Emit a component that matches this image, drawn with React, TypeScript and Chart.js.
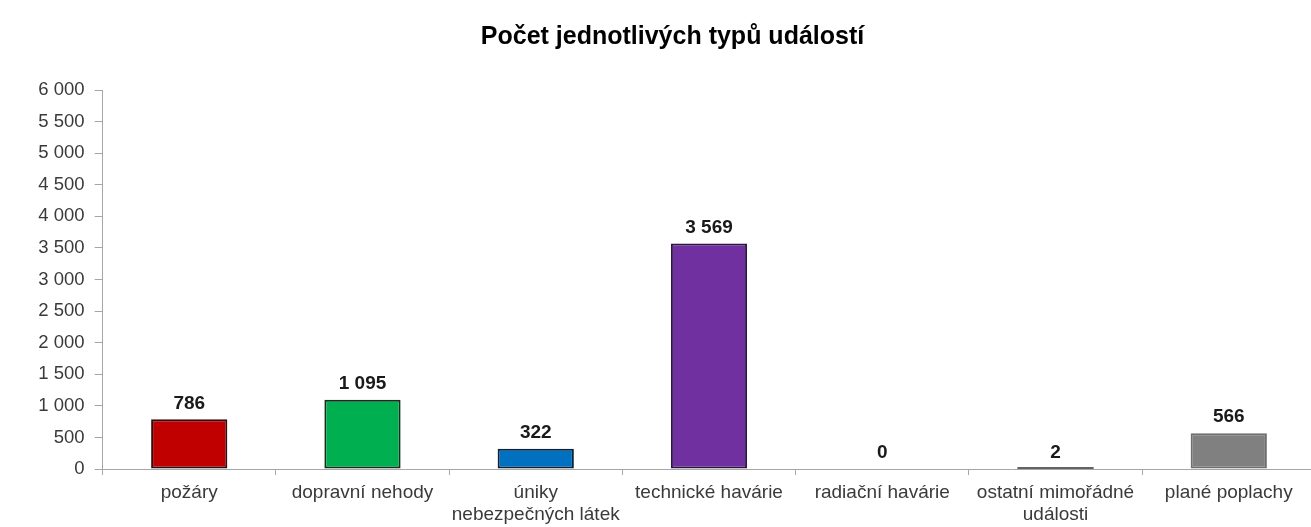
import React, { useEffect, useRef } from 'react';
import { Chart, registerables } from 'chart.js';

Chart.register(...registerables);

const titleText = 'Počet jednotlivých typů událostí';
const categories: string[][] = [
  ['požáry'],
  ['dopravní nehody'],
  ['úniky', 'nebezpečných látek'],
  ['technické havárie'],
  ['radiační havárie'],
  ['ostatní mimořádné', 'události'],
  ['plané poplachy'],
];
const values = [786, 1095, 322, 3569, 0, 2, 566];
const fillColors = ['#C00000', '#00B050', '#0070C0', '#7030A0', '#808080', '#808080', '#808080'];
const edgeColors = ['#2a1010', '#13301d', '#0d2238', '#2a1640', '#333333', '#333333', '#6f6f6f'];
const yMin = 0;
const yMax = 6000;
const yStep = 500;

const FONT = '"Liberation Sans", Arial, sans-serif';

const fmt = (n: number) => String(n).replace(/\B(?=(\d{3})+(?!\d))/g, ' ');

const valueLabels = {
  id: 'valueLabels',
  afterDatasetsDraw(chart: any) {
    const ctx = chart.ctx;
    const meta = chart.getDatasetMeta(0);
    ctx.save();
    meta.data.forEach((bar: any, i: number) => {
      const v = values[i];
      const h = Math.abs(bar.base - bar.y);
      if (v > 0 && h < 1.5) {
        ctx.strokeStyle = edgeColors[i];
        ctx.lineWidth = 1.5;
        ctx.beginPath();
        ctx.moveTo(bar.x - bar.width / 2, bar.base - 0.5);
        ctx.lineTo(bar.x + bar.width / 2, bar.base - 0.5);
        ctx.stroke();
      }
      ctx.fillStyle = '#1a1a1a';
      ctx.font = `bold 19px ${FONT}`;
      ctx.textAlign = 'center';
      ctx.textBaseline = 'middle';
      ctx.fillText(fmt(v), bar.x, bar.y - 16);
    });
    ctx.restore();
  },
};

export default function App() {
  const ref = useRef<HTMLCanvasElement | null>(null);
  useEffect(() => {
    if (!ref.current) return;
    const chart = new Chart(ref.current, {
      type: 'bar',
      data: {
        labels: categories,
        datasets: [
          {
            data: values,
            backgroundColor: fillColors,
            borderColor: edgeColors,
            borderWidth: 2,
            borderSkipped: false,
            barPercentage: 0.44,
            categoryPercentage: 1,
          },
        ],
      },
      options: {
        responsive: false,
        animation: false,
        layout: { padding: { left: 29.6, right: 4.6, top: 0, bottom: 0 } },
        plugins: {
          legend: { display: false },
          tooltip: { enabled: false },
          title: {
            display: true,
            text: titleText,
            color: '#000',
            font: { family: FONT, size: 25, weight: 'bold' },
            padding: { top: 22, bottom: 38 },
          },
        },
        scales: {
          x: {
            afterFit: (s: any) => {
              s.height = 58;
            },
            grid: {
              display: true,
              offset: true,
              drawOnChartArea: false,
              drawTicks: true,
              tickLength: 6,
              color: '#a6a6a6',
            },
            border: { display: true, color: '#a6a6a6', width: 1 },
            ticks: {
              color: '#3a3a3a',
              font: { family: FONT, size: 19 },
              padding: 6,
              maxRotation: 0,
              autoSkip: false,
            },
          },
          y: {
            min: yMin,
            max: yMax,
            afterFit: (s: any) => {
              s.width = 73;
            },
            grid: {
              display: true,
              drawOnChartArea: false,
              drawTicks: true,
              tickLength: 8,
              color: '#a6a6a6',
            },
            border: { display: true, color: '#a6a6a6', width: 1 },
            ticks: {
              stepSize: yStep,
              color: '#3a3a3a',
              font: { family: FONT, size: 18.5 },
              padding: 10,
              callback: (v: any) => fmt(Number(v)),
            },
          },
        },
      },
      plugins: [valueLabels],
    });
    return () => chart.destroy();
  }, []);

  return (
    <div
      style={{
        position: 'fixed',
        left: 0,
        top: 0,
        width: 1311,
        height: 527,
        overflow: 'hidden',
        background: '#fff',
      }}
    >
      <canvas ref={ref} width={1320} height={527} style={{ display: 'block' }} />
    </div>
  );
}
